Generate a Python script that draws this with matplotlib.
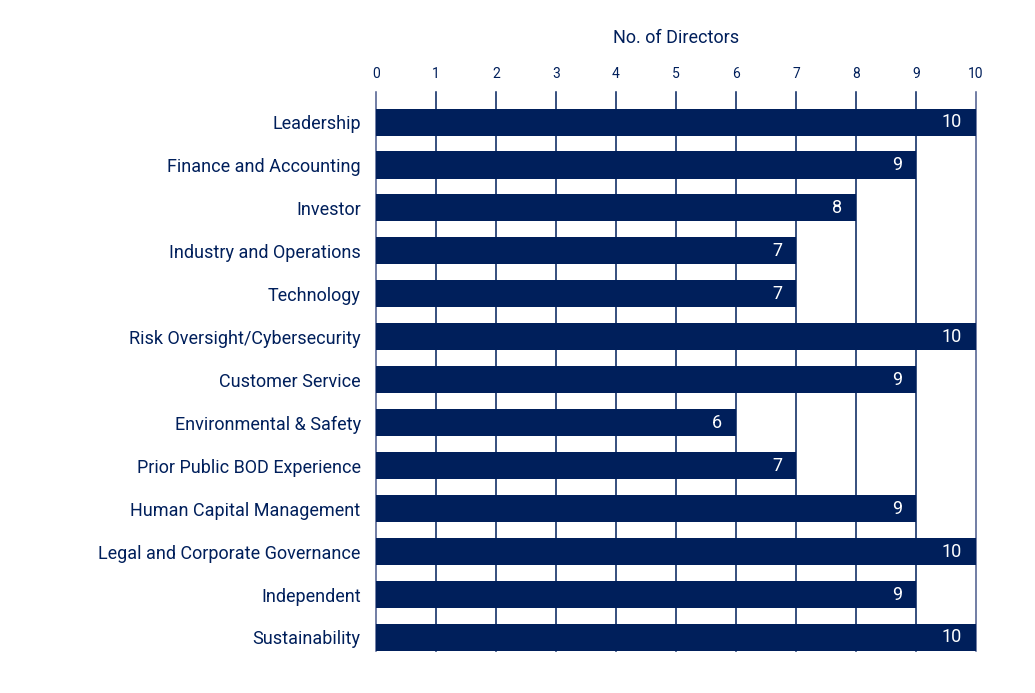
import matplotlib
matplotlib.use('Agg')
import matplotlib.pyplot as plt
import numpy as np

plt.rcParams['font.family'] = ['Roboto', 'DejaVu Sans']

categories = ['Leadership', 'Finance and Accounting', 'Investor', 'Industry and Operations',
              'Technology', 'Risk Oversight/Cybersecurity', 'Customer Service',
              'Environmental & Safety', 'Prior Public BOD Experience', 'Human Capital Management',
              'Legal and Corporate Governance', 'Independent', 'Sustainability']
directors = [10, 9, 8, 7, 7, 10, 9, 6, 7, 9, 10, 9, 10]
ticks = list(range(0, 11))

navy = '#001f5b'

fig = plt.figure(figsize=(10.35, 6.93), dpi=100)
ax = fig.add_axes([376 / 1035, 1 - 651 / 693, 600 / 1035, (651 - 92) / 693])

y = np.arange(len(categories))
for t in ticks:
    c = '#4a5a8c' if t in (0, 10) else navy
    ax.axvline(t, color=c, lw=1.1, zorder=0, clip_on=False)
ax.barh(y, directors, height=0.63, color=navy, zorder=2)
for yi, v in zip(y, directors):
    ax.text(v - 0.23, yi, str(v), color='white', ha='right', va='center', fontsize=13, zorder=3)

ax.set_xlim(0, 10)
ax.set_ylim(len(categories) - 1 + 0.315, -0.7)
ax.set_yticks(y)
ax.set_yticklabels(categories, fontsize=13, color=navy)
ax.set_xticks(ticks)
ax.xaxis.tick_top()
ax.tick_params(axis='x', length=0, pad=8, labelsize=10, labelcolor=navy)
ax.tick_params(axis='y', length=0, pad=11)
for s in ax.spines.values():
    s.set_visible(False)
ax.set_xlabel('No. of Directors', fontsize=13, color=navy, labelpad=17)
ax.xaxis.set_label_position('top')

fig.savefig('out.png', dpi=100, facecolor='white')
